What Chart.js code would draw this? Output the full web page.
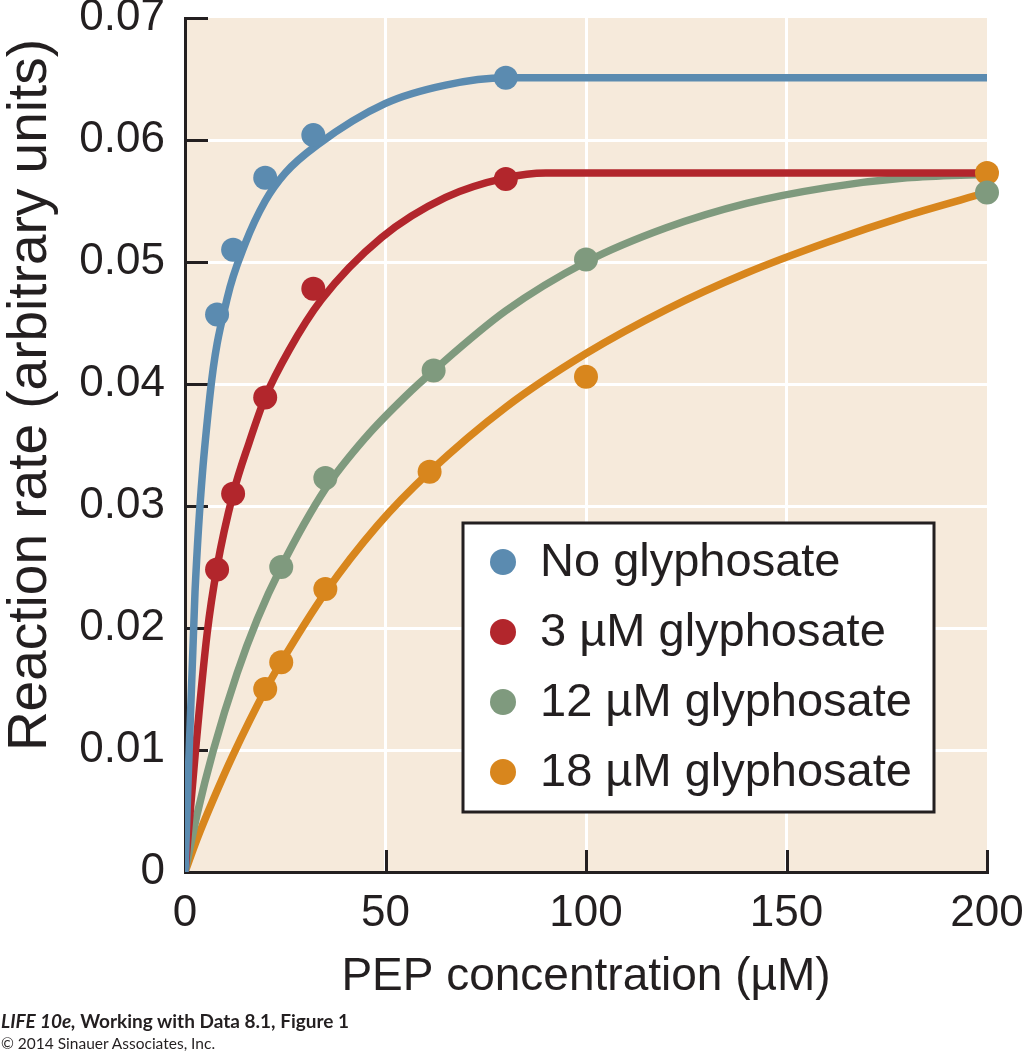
<!DOCTYPE html>
<html>
<head>
<meta charset="utf-8">
<script src="https://cdn.jsdelivr.net/npm/chart.js@4/dist/chart.umd.min.js"></script>
<style>
  html, body { margin: 0; padding: 0; background: #fff; }
  #wrap { position: relative; width: 1024px; height: 1054px; }
  .note { position: absolute; left: 1px; font-family: Lato, "Open Sans", sans-serif; color: #231f20; white-space: nowrap; line-height: 1; }
</style>
</head>
<body>
<div id="wrap">
  <canvas id="chart" width="1024" height="1054"></canvas>
  <div class="note" style="top:1011px;font-size:19px;font-weight:bold;"><i>LIFE 10e,</i> Working with Data 8.1, Figure 1</div>
  <div class="note" style="top:1036px;font-size:15.5px;">© 2014 Sinauer Associates, Inc.</div>
</div>
<script>
// axes
const xTicks = [0, 50, 100, 150, 200];
const yTicks = [0, 0.01, 0.02, 0.03, 0.04, 0.05, 0.06, 0.07];
const yTickLabels = ['0', '0.01', '0.02', '0.03', '0.04', '0.05', '0.06', '0.07'];
const xTitle = 'PEP concentration (µM)';
const yTitle = 'Reaction rate (arbitrary units)';

// series
const seriesNames = ['No glyphosate', '3 µM glyphosate', '12 µM glyphosate', '18 µM glyphosate'];
const seriesColors = ['#5b8bb0', '#b2262c', '#7f9a7e', '#d8861d'];

// measured points
const noneX = [8, 12, 20, 32, 80];
const noneY = [0.0457, 0.0510, 0.0569, 0.0604, 0.0651];
const g3X = [8, 12, 20, 32, 80];
const g3Y = [0.0248, 0.0310, 0.0389, 0.0478, 0.0568];
const g12X = [24, 35, 62, 100, 200];
const g12Y = [0.0250, 0.0323, 0.0411, 0.0502, 0.0557];
const g18X = [20, 24, 35, 61, 100, 200];
const g18Y = [0.0150, 0.0172, 0.0232, 0.0328, 0.0406, 0.0573];

// fitted curves
const noneFitX = [0, 2.5, 6.2, 10.5, 15, 20, 25, 33, 50, 65, 80, 200];
const noneFitY = [0, 0.023, 0.039, 0.047, 0.0515, 0.0550, 0.0573, 0.0596, 0.0630, 0.0645, 0.0651, 0.0651];
const g3FitX = [0, 2.5, 5.5, 8, 12, 16, 20, 26, 34, 49, 65, 80, 90, 200];
const g3FitY = [0, 0.0095, 0.0195, 0.025, 0.031, 0.0352, 0.0389, 0.0428, 0.0469, 0.052, 0.0553, 0.0569, 0.0573, 0.0573];
const g12FitX = [0, 3, 7, 13, 18, 24, 35, 45, 55, 62, 80, 100, 120, 140, 160, 180, 200];
const g12FitY = [0, 0.0047, 0.0099, 0.0163, 0.0207, 0.025, 0.0314, 0.0356, 0.039, 0.0411, 0.046, 0.050, 0.0528, 0.0548, 0.0561, 0.0569, 0.0572];
const g18FitX = [0, 3, 7, 12, 20, 24, 35, 48, 61, 80, 100, 120, 140, 160, 180, 200];
const g18FitY = [0, 0.0027, 0.0059, 0.0096, 0.0149, 0.0172, 0.0229, 0.0284, 0.0328, 0.0381, 0.0425, 0.0461, 0.0491, 0.0516, 0.0538, 0.0557];

const pointsX = [noneX, g3X, g12X, g18X];
const pointsY = [noneY, g3Y, g12Y, g18Y];
const fitX = [noneFitX, g3FitX, g12FitX, g18FitX];
const fitY = [noneFitY, g3FitY, g12FitY, g18FitY];

const ink = '#231f20';
const font = '"Liberation Sans", Arial, Helvetica, sans-serif';

const pairs = (xs, ys) => xs.map((x, i) => ({ x: x, y: ys[i] }));

const datasets = [];
seriesNames.forEach((name, i) => {
    datasets.push({
        label: name,
        data: pairs(pointsX[i], pointsY[i]),
        backgroundColor: seriesColors[i],
        borderColor: seriesColors[i],
        pointRadius: 12,
        pointBorderWidth: 0,
        showLine: false,
        clip: false,
        order: 0
    });
});
seriesNames.forEach((name, i) => {
    datasets.push({
        label: name + ' (fit)',
        data: pairs(fitX[i], fitY[i]),
        borderColor: seriesColors[i],
        borderWidth: 7.5,
        pointRadius: 0,
        showLine: true,
        fill: false,
        cubicInterpolationMode: 'monotone',
        order: 1
    });
});

const near = (a, b) => Math.abs(a - b) < 1e-9;

// beige plot panel
const panel = {
    id: 'panel',
    beforeDraw(chart) {
        const a = chart.chartArea, ctx = chart.ctx;
        ctx.save();
        ctx.fillStyle = '#f6eadb';
        ctx.fillRect(a.left, a.top, a.right - a.left, a.bottom - a.top);
        ctx.restore();
    }
};

// tick marks point into the plot
const innerTicks = {
    id: 'innerTicks',
    beforeDatasetsDraw(chart) {
        const ctx = chart.ctx, xs = chart.scales.x, ys = chart.scales.y, a = chart.chartArea;
        ctx.save();
        ctx.strokeStyle = ink;
        ctx.lineWidth = 3;
        ctx.beginPath();
        yTicks.forEach(v => {
            if (v === 0) return;
            const y = Math.round(ys.getPixelForValue(v)) + 0.5;
            ctx.moveTo(a.left, y);
            ctx.lineTo(a.left + 23, y);
        });
        xTicks.forEach(v => {
            if (v === 0) return;
            const x = Math.round(xs.getPixelForValue(v)) + 0.5;
            ctx.moveTo(x, a.bottom);
            ctx.lineTo(x, a.bottom - 22);
        });
        ctx.stroke();
        ctx.restore();
    }
};

// y title, placed a bit above the axis middle like the original
const yAxisTitle = {
    id: 'yAxisTitle',
    afterDraw(chart) {
        const ctx = chart.ctx;
        ctx.save();
        ctx.translate(31, 395);
        ctx.rotate(-Math.PI / 2);
        ctx.font = '55px ' + font;
        ctx.fillStyle = ink;
        ctx.textAlign = 'center';
        ctx.textBaseline = 'middle';
        ctx.fillText(yTitle, 0, 0);
        ctx.restore();
    }
};

// boxed legend inside the plot
const legendBox = {
    id: 'legendBox',
    afterDatasetsDraw(chart) {
        const ctx = chart.ctx;
        ctx.save();
        ctx.fillStyle = '#fff';
        ctx.fillRect(463, 523, 471, 289);
        ctx.strokeStyle = ink;
        ctx.lineWidth = 3;
        ctx.strokeRect(463, 523, 471, 289);
        ctx.font = '47px ' + font;
        ctx.textBaseline = 'middle';
        chart.data.datasets.slice(0, seriesNames.length).forEach((ds, i) => {
            const y = 562 + i * 70;
            ctx.beginPath();
            ctx.arc(503, y, 13, 0, Math.PI * 2);
            ctx.fillStyle = ds.backgroundColor;
            ctx.fill();
            ctx.fillStyle = ink;
            ctx.fillText(ds.label, 540, y + 1);
        });
        ctx.restore();
    }
};

new Chart(document.getElementById('chart'), {
    type: 'scatter',
    data: { datasets: datasets },
    options: {
        responsive: false,
        animation: false,
        layout: { padding: { top: 18, right: 37, left: 0, bottom: 0 } },
        plugins: { legend: { display: false }, tooltip: { enabled: false } },
        scales: {
            x: {
                type: 'linear',
                min: 0,
                max: 200,
                afterBuildTicks: s => { s.ticks = xTicks.map(v => ({ value: v })); },
                afterFit: s => { s.height = 182; s.paddingLeft = 0; s.paddingRight = 0; },
                ticks: {
                    color: ink,
                    padding: 15,
                    font: { family: font, size: 44 },
                    maxRotation: 0,
                    callback: v => String(v)
                },
                grid: {
                    drawTicks: false,
                    lineWidth: 3,
                    color: c => (c.tick && (c.tick.value === 0 || c.tick.value === 200)) ? 'rgba(0,0,0,0)' : '#ffffff'
                },
                border: { display: true, color: ink, width: 3 },
                title: {
                    display: true,
                    text: xTitle,
                    color: ink,
                    font: { family: font, size: 46 },
                    padding: { top: 0, bottom: 49 }
                }
            },
            y: {
                type: 'linear',
                min: 0,
                max: 0.07,
                afterBuildTicks: s => { s.ticks = yTicks.map(v => ({ value: v })); },
                afterFit: s => { s.width = 185; s.paddingTop = 0; s.paddingBottom = 0; },
                ticks: {
                    color: ink,
                    padding: 20,
                    font: { family: font, size: 44 },
                    callback: v => {
                        const k = yTicks.findIndex(t => near(t, v));
                        return k >= 0 ? yTickLabels[k] : '';
                    }
                },
                grid: {
                    drawTicks: false,
                    lineWidth: 3,
                    color: c => (c.tick && (near(c.tick.value, 0) || near(c.tick.value, 0.07))) ? 'rgba(0,0,0,0)' : '#ffffff'
                },
                border: { display: true, color: ink, width: 3 }
            }
        }
    },
    plugins: [panel, innerTicks, yAxisTitle, legendBox]
});
</script>
</body>
</html>
